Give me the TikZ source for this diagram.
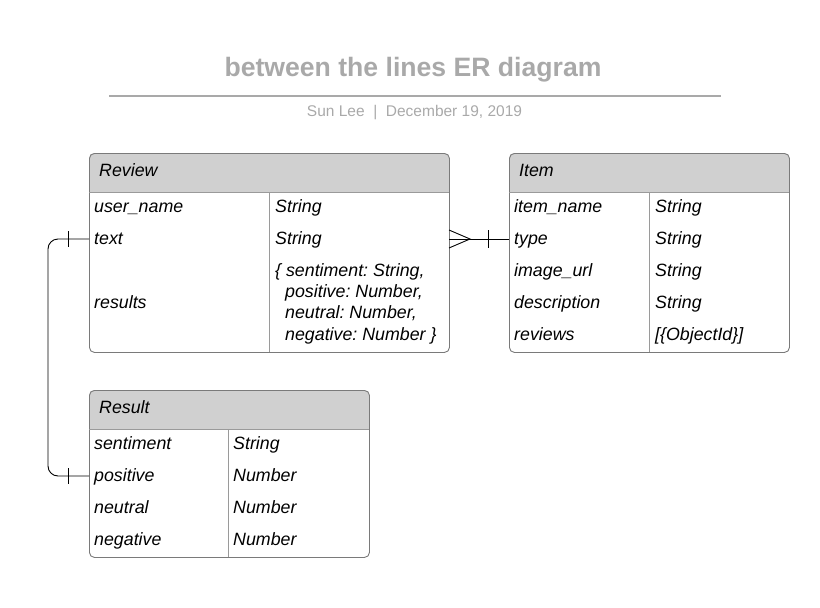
\documentclass[tikz,border=0pt]{standalone}
\usepackage{fontspec}
\setmainfont{Liberation Sans}
\frenchspacing
\definecolor{ttl}{HTML}{A9A9A9}
\definecolor{bord}{HTML}{7A7A7A}
\definecolor{hdr}{HTML}{D0D0D0}
\definecolor{inner}{HTML}{9A9A9A}
\tikzset{
  tbl/.style={draw=bord, line width=0.9pt, rounded corners=5pt, inner sep=0pt, anchor=north west},
  cell/.style={anchor=base west, inner sep=0pt, font=\fontsize{17.8}{20}\selectfont\itshape},
  hcell/.style={anchor=base west, inner sep=0pt, font=\fontsize{17.8}{20}\selectfont\itshape},
  sep/.style={draw=inner, line width=0.9pt},
  conn/.style={draw=black, line width=0.9pt},
}
\begin{document}
\begin{tikzpicture}[x=1pt,y=-1pt]
\useasboundingbox (0,0) rectangle (820,608);
% title
\node[font=\fontsize{26.6}{30}\selectfont\bfseries, text=ttl, inner sep=0pt] (title) at (413,70) {between the lines ER diagram};
\coordinate (ls) at (109,96);
\coordinate (le) at (721,96);
\draw[ttl, line width=1.6pt] (ls) -- (le);
\node[font=\fontsize{15.5}{18}\selectfont, text=ttl, inner sep=0pt] (sub) at (414.5,113) {Sun Lee~~|~~December 19, 2019};

% Review table
\begin{scope}
\clip[rounded corners=5pt] (89,153) rectangle (449,352);
\fill[hdr] (89,153) rectangle (449,192);
\end{scope}
\node[tbl, minimum width=360pt, minimum height=199pt] (review) at (89,153) {};
\draw[sep] (89,192) -- (449,192);
\draw[sep] (269,192) -- (269,352);
\node[hcell] (rh) at (99,176) {Review};
\node[cell] (r1) at (94,212) {user\_name};
\node[cell] (r1t) at (275,212) {String};
\node[cell] (r2) at (94,244) {text};
\node[cell] (r2t) at (275,244) {String};
\node[cell] (r3) at (94,308) {results};
\node[cell] (r3a) at (275,276) {\{ sentiment: String,};
\node[cell] (r3b) at (285,297) {positive: Number,};
\node[cell] (r3c) at (285,318) {neutral: Number,};
\node[cell] (r3d) at (285,340) {negative: Number \}};

% Item table
\begin{scope}
\clip[rounded corners=5pt] (509,153) rectangle (789,352);
\fill[hdr] (509,153) rectangle (789,192);
\end{scope}
\node[tbl, minimum width=280pt, minimum height=199pt] (item) at (509,153) {};
\draw[sep] (509,192) -- (789,192);
\draw[sep] (649,192) -- (649,352);
\node[hcell] (ih) at (519,176) {Item};
\node[cell] (i1) at (514,212) {item\_name};
\node[cell] (i1t) at (655,212) {String};
\node[cell] (i2) at (514,244) {type};
\node[cell] (i2t) at (655,244) {String};
\node[cell] (i3) at (514,276) {image\_url};
\node[cell] (i3t) at (655,276) {String};
\node[cell] (i4) at (514,308) {description};
\node[cell] (i4t) at (655,308) {String};
\node[cell] (i5) at (514,340) {reviews};
\node[cell] (i5t) at (655,340) {[\{ObjectId\}]};

% Result table
\begin{scope}
\clip[rounded corners=5pt] (89,390) rectangle (369,557);
\fill[hdr] (89,390) rectangle (369,429);
\end{scope}
\node[tbl, minimum width=280pt, minimum height=167pt] (result) at (89,390) {};
\draw[sep] (89,429) -- (369,429);
\draw[sep] (228,429) -- (228,557);
\node[hcell] (sh) at (99,413) {Result};
\node[cell] (s1) at (94,449) {sentiment};
\node[cell] (s1t) at (233,449) {String};
\node[cell] (s2) at (94,481) {positive};
\node[cell] (s2t) at (233,481) {Number};
\node[cell] (s3) at (94,513) {neutral};
\node[cell] (s3t) at (233,513) {Number};
\node[cell] (s4) at (94,545) {negative};
\node[cell] (s4t) at (233,545) {Number};

% connectors
\coordinate (rt) at (89,239);
\coordinate (rp) at (89,476);
\draw[conn, rounded corners=10pt] (rt) -- (48,239) -- (48,476) -- (rp);
\draw[conn] (68,231) -- (68,247);
\draw[conn] (68,468) -- (68,484);

\coordinate (rr) at (449,239);
\coordinate (il) at (509,239);
\draw[conn] (rr) -- (il);
\draw[conn] (449,230) -- (470,239) -- (449,248);
\draw[conn] (488,230) -- (488,248);
\end{tikzpicture}
\end{document}
